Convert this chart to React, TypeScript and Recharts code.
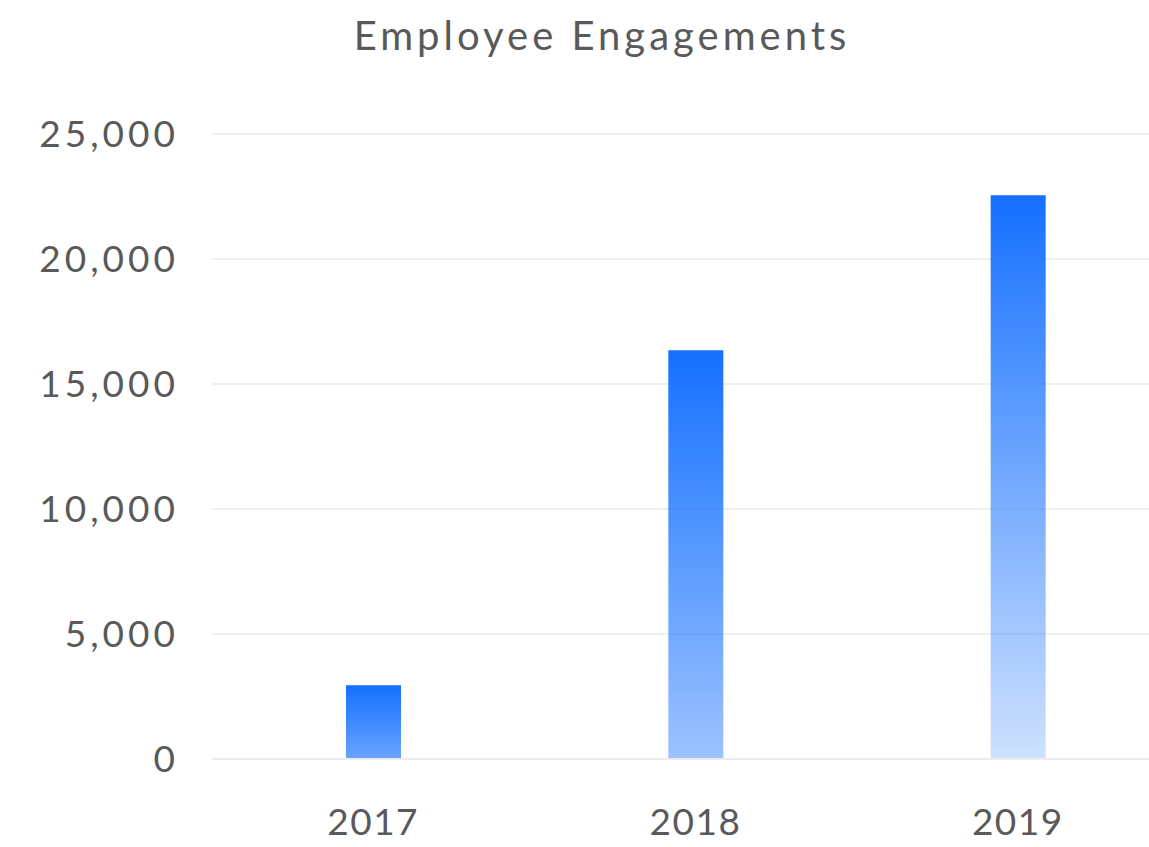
import React from 'react';
import { BarChart, Bar, XAxis, YAxis, CartesianGrid } from 'recharts';

const years = ['2017', '2018', '2019'];
const engagements = [2950, 16350, 22550];
const yTicks = [0, 5000, 10000, 15000, 20000, 25000];

// how far each bar fades toward white at its base
const baseOpacity = [0.64, 0.42, 0.21];

const data = years.map((year, i) => ({ year, value: engagements[i] }));

const FONT = 'Lato, "Open Sans", sans-serif';
const TEXT = '#595959';

const GradientBar = (props: any) => {
  const { x, y, width, height, index } = props;
  const id = `barGrad${index}`;
  return (
    <g>
      <defs>
        <linearGradient id={id} x1="0" y1="0" x2="0" y2="1">
          <stop offset="0%" stopColor="#1570ff" stopOpacity={1} />
          <stop offset="100%" stopColor="#1570ff" stopOpacity={baseOpacity[index]} />
        </linearGradient>
      </defs>
      <rect x={x} y={y} width={width} height={height} fill={`url(#${id})`} />
    </g>
  );
};

export default function App() {
  return (
    <div style={{ position: 'fixed', left: 0, top: 0, width: 1149, height: 847, overflow: 'hidden', background: '#fff' }}>
      <div
        style={{
          position: 'absolute',
          left: 252,
          width: 700,
          top: 11,
          textAlign: 'center',
          fontFamily: FONT,
          fontSize: 40,
          letterSpacing: 4,
          color: TEXT,
        }}
      >
        Employee Engagements
      </div>
      <BarChart
        width={1179}
        height={847}
        data={data}
        margin={{ top: 134, right: 0, bottom: 0, left: 0 }}
        style={{ overflow: 'visible' }}
      >
        <CartesianGrid vertical={false} stroke="#efefef" strokeWidth={2} />
        <XAxis
          dataKey="year"
          height={88}
          axisLine={{ stroke: '#ececec', strokeWidth: 2 }}
          tickLine={false}
          tickMargin={44}
          tick={{ fontFamily: FONT, fontSize: 37, fill: TEXT, letterSpacing: 1.5 }}
        />
        <YAxis
          width={212}
          domain={[0, 25000]}
          ticks={yTicks}
          axisLine={false}
          tickLine={false}
          tickMargin={27}
          tickFormatter={(v: number) => v.toLocaleString('en-US')}
          tick={{ fontFamily: FONT, fontSize: 37, fill: TEXT, letterSpacing: 4 }}
        />
        <Bar dataKey="value" barSize={55} shape={GradientBar} isAnimationActive={false} />
      </BarChart>
    </div>
  );
}
